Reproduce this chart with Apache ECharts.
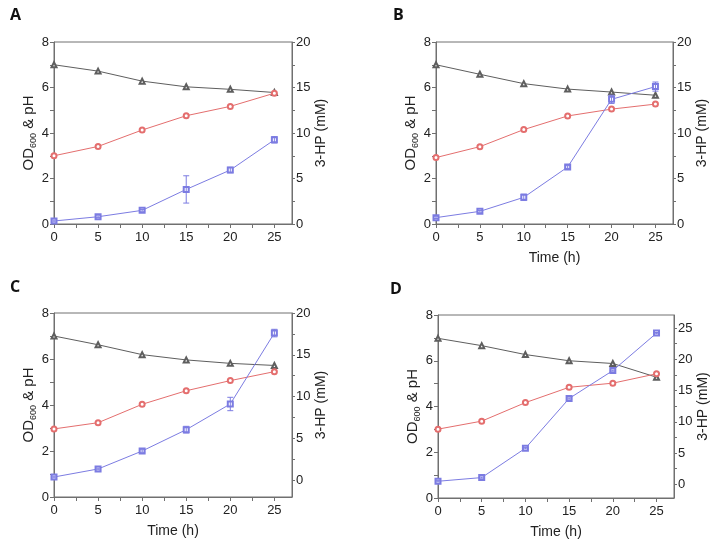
<!DOCTYPE html>
<html>
<head>
<meta charset="utf-8">
<script src="https://cdn.jsdelivr.net/npm/echarts@6.0.0/dist/echarts.min.js"></script>
<style>
  html, body { margin: 0; padding: 0; background: #fff; }
  #chart-container { width: 716px; height: 541px; }
</style>
</head>
<body>
<div id="chart-container"></div>
<script>
var dom = document.getElementById("chart-container");
var myChart = echarts.init(dom, null, { renderer: "canvas" });

// ---- data ----
var times = [0, 5, 10, 15, 20, 25];
var panelLetters = ["A", "B", "C", "D"];

var pHA = [7.0, 6.72, 6.28, 6.03, 5.92, 5.78];
var odA = [3.0, 3.41, 4.13, 4.76, 5.17, 5.75];
var hpA = [0.33, 0.8, 1.5, 3.8, 5.93, 9.25];
var hpErrA = [0.1, 0.1, 0.1, 1.5, 0.3, 0.35];

var pHB = [7.0, 6.58, 6.17, 5.93, 5.8, 5.66];
var odB = [2.92, 3.4, 4.15, 4.75, 5.05, 5.27];
var hpB = [0.7, 1.39, 2.93, 6.26, 13.7, 15.1];
var hpErrB = [0.1, 0.1, 0.35, 0.15, 0.45, 0.5];

var pHC = [7.0, 6.62, 6.19, 5.96, 5.81, 5.72];
var odC = [2.96, 3.23, 4.03, 4.62, 5.06, 5.45];
var hpC = [0.39, 1.35, 3.5, 6.05, 9.12, 17.6];
var hpErrC = [0.1, 0.1, 0.15, 0.4, 0.8, 0.45];

var pHD = [6.98, 6.66, 6.27, 6.0, 5.88, 5.28];
var odD = [3.01, 3.36, 4.17, 4.84, 5.02, 5.43];
var hpD = [0.48, 1.07, 5.77, 13.73, 18.2, 24.2];
var hpErrD = [0.1, 0.1, 0.1, 0.1, 0.1, 0.1];

// tick labels (major) and minor tick positions
var xTicks = [0, 5, 10, 15, 20, 25];
var xMinor = [2.5, 7.5, 12.5, 17.5, 22.5];
var leftTicks = [0, 2, 4, 6, 8];
var leftMinor = [1, 3, 5, 7];
var rightTicks20 = [0, 5, 10, 15, 20];
var rightMinor20 = [2.5, 7.5, 12.5, 17.5];
var rightTicks25 = [0, 5, 10, 15, 20, 25];
var rightMinor25 = [2.5, 7.5, 12.5, 17.5, 22.5];

// ---- layout ----
var panels = [
  { pH: pHA, od: odA, hp: hpA, err: hpErrA, rMin: 0, rMax: 20, rTicks: rightTicks20, rMinor: rightMinor20, timeName: false,
    grid: { left: 54, top: 42, width: 238, height: 182 }, letter: [10, 7] },
  { pH: pHB, od: odB, hp: hpB, err: hpErrB, rMin: 0, rMax: 20, rTicks: rightTicks20, rMinor: rightMinor20, timeName: true,
    grid: { left: 436, top: 42, width: 237, height: 182 }, letter: [393, 7] },
  { pH: pHC, od: odC, hp: hpC, err: hpErrC, rMin: -2, rMax: 20, rTicks: rightTicks20, rMinor: rightMinor20, timeName: true,
    grid: { left: 54, top: 313, width: 238, height: 184 }, letter: [10, 279] },
  { pH: pHD, od: odD, hp: hpD, err: hpErrD, rMin: -2.2, rMax: 27.1, rTicks: rightTicks25, rMinor: rightMinor25, timeName: true,
    grid: { left: 438, top: 315, width: 236, height: 183 }, letter: [390, 281] }
];

var axisColor = "#707070";
var font = "Arial";
var pHColor = "#5e5e5e";
var odColor = "#e46e6e";
var hpColor = "#7c7ce2";

var grids = [], xAxes = [], yAxes = [], series = [], graphics = [];

function errorBar(color) {
  return function (params, api) {
    var x = api.value(0);
    var top = api.coord([x, api.value(2)]);
    var bot = api.coord([x, api.value(1)]);
    var w = 3;
    var st = { stroke: color, lineWidth: 1 };
    return {
      type: "group",
      children: [
        { type: "line", shape: { x1: top[0], y1: top[1], x2: bot[0], y2: bot[1] }, style: st },
        { type: "line", shape: { x1: top[0] - w, y1: top[1], x2: top[0] + w, y2: top[1] }, style: st },
        { type: "line", shape: { x1: bot[0] - w, y1: bot[1], x2: bot[0] + w, y2: bot[1] }, style: st }
      ]
    };
  };
}

panels.forEach(function (p, i) {
  grids.push(Object.assign({
    show: true, borderColor: axisColor, borderWidth: 1, backgroundColor: "transparent",
    containLabel: false, outerBoundsMode: "none"
  }, p.grid));

  var xi = xAxes.length;
  xAxes.push({
    gridIndex: i, type: "value", position: "bottom", min: 0, max: 27,
    name: p.timeName ? "Time (h)" : "", nameLocation: "middle", nameGap: 27,
    nameTextStyle: { fontFamily: font, fontSize: 14, color: "#222" },
    axisLine: { show: true, lineStyle: { color: axisColor, width: 1 } },
    axisTick: { show: true, inside: false, length: 4, customValues: xTicks.concat(xMinor), lineStyle: { color: axisColor } },
    axisLabel: { show: true, customValues: xTicks, margin: 7, fontFamily: font, fontSize: 13, color: "#222" },
    splitLine: { show: false }
  });

  var yl = yAxes.length;
  yAxes.push({
    gridIndex: i, type: "value", position: "left", min: 0, max: 8,
    name: "{a|OD}{s|600}{a| & pH}", nameLocation: "middle", nameRotate: 90, nameGap: 15,
    nameTextStyle: {
      rich: {
        a: { fontFamily: font, fontSize: 15, color: "#222", lineHeight: 18 },
        s: { fontFamily: font, fontSize: 9, color: "#222", verticalAlign: "bottom", lineHeight: 10 }
      }
    },
    axisLine: { show: true, lineStyle: { color: axisColor, width: 1 } },
    axisTick: { show: true, length: 4, customValues: leftTicks.concat(leftMinor), lineStyle: { color: axisColor } },
    axisLabel: { show: true, customValues: leftTicks, margin: 5, fontFamily: font, fontSize: 13, color: "#222" },
    splitLine: { show: false }
  });
  var yr = yAxes.length;
  yAxes.push({
    gridIndex: i, type: "value", position: "right", min: p.rMin, max: p.rMax,
    name: "3-HP (mM)", nameLocation: "middle", nameRotate: 90, nameGap: 21,
    nameTextStyle: { fontFamily: font, fontSize: 14, color: "#222" },
    axisLine: { show: true, lineStyle: { color: axisColor, width: 1 } },
    axisTick: { show: true, length: 3, customValues: p.rTicks.concat(p.rMinor), lineStyle: { color: axisColor } },
    axisLabel: { show: true, customValues: p.rTicks, margin: 4, fontFamily: font, fontSize: 13, color: "#222" },
    splitLine: { show: false }
  });

  function pairs(vals) {
    return times.map(function (t, k) { return [t, vals[k]]; });
  }

  series.push({
    name: "pH", type: "line", xAxisIndex: xi, yAxisIndex: yl, data: pairs(p.pH),
    symbol: "emptyTriangle", symbolSize: 5, itemStyle: { color: pHColor, borderWidth: 1 },
    lineStyle: { color: pHColor, width: 1 }, z: 3, animation: false
  });
  series.push({
    name: "OD600", type: "line", xAxisIndex: xi, yAxisIndex: yl, data: pairs(p.od),
    symbol: "emptyCircle", symbolSize: 5, itemStyle: { color: odColor, borderWidth: 1 },
    lineStyle: { color: odColor, width: 1 }, z: 3, animation: false
  });
  series.push({
    name: "3-HP", type: "line", xAxisIndex: xi, yAxisIndex: yr, data: pairs(p.hp),
    symbol: "emptyRect", symbolSize: 5, itemStyle: { color: hpColor, borderWidth: 1 },
    lineStyle: { color: hpColor, width: 1 }, z: 3, animation: false
  });
  series.push({
    name: "3-HP error", type: "custom", xAxisIndex: xi, yAxisIndex: yr,
    data: times.map(function (t, k) { return [t, p.hp[k] - p.err[k], p.hp[k] + p.err[k]]; }),
    encode: { x: 0, y: [1, 2] }, renderItem: errorBar(hpColor), z: 4, animation: false
  });

  graphics.push({
    type: "text", left: p.letter[0], top: p.letter[1],
    style: { text: panelLetters[i], fontFamily: "Open Sans", fontWeight: "bold", fontSize: 16, fill: "#111" }
  });
});

var option = {
  backgroundColor: "#fff",
  animation: false,
  grid: grids,
  xAxis: xAxes,
  yAxis: yAxes,
  series: series,
  graphic: graphics
};

if (option && typeof option === "object") {
  myChart.setOption(option);
}

window.addEventListener("resize", myChart.resize);
</script>
</body>
</html>
